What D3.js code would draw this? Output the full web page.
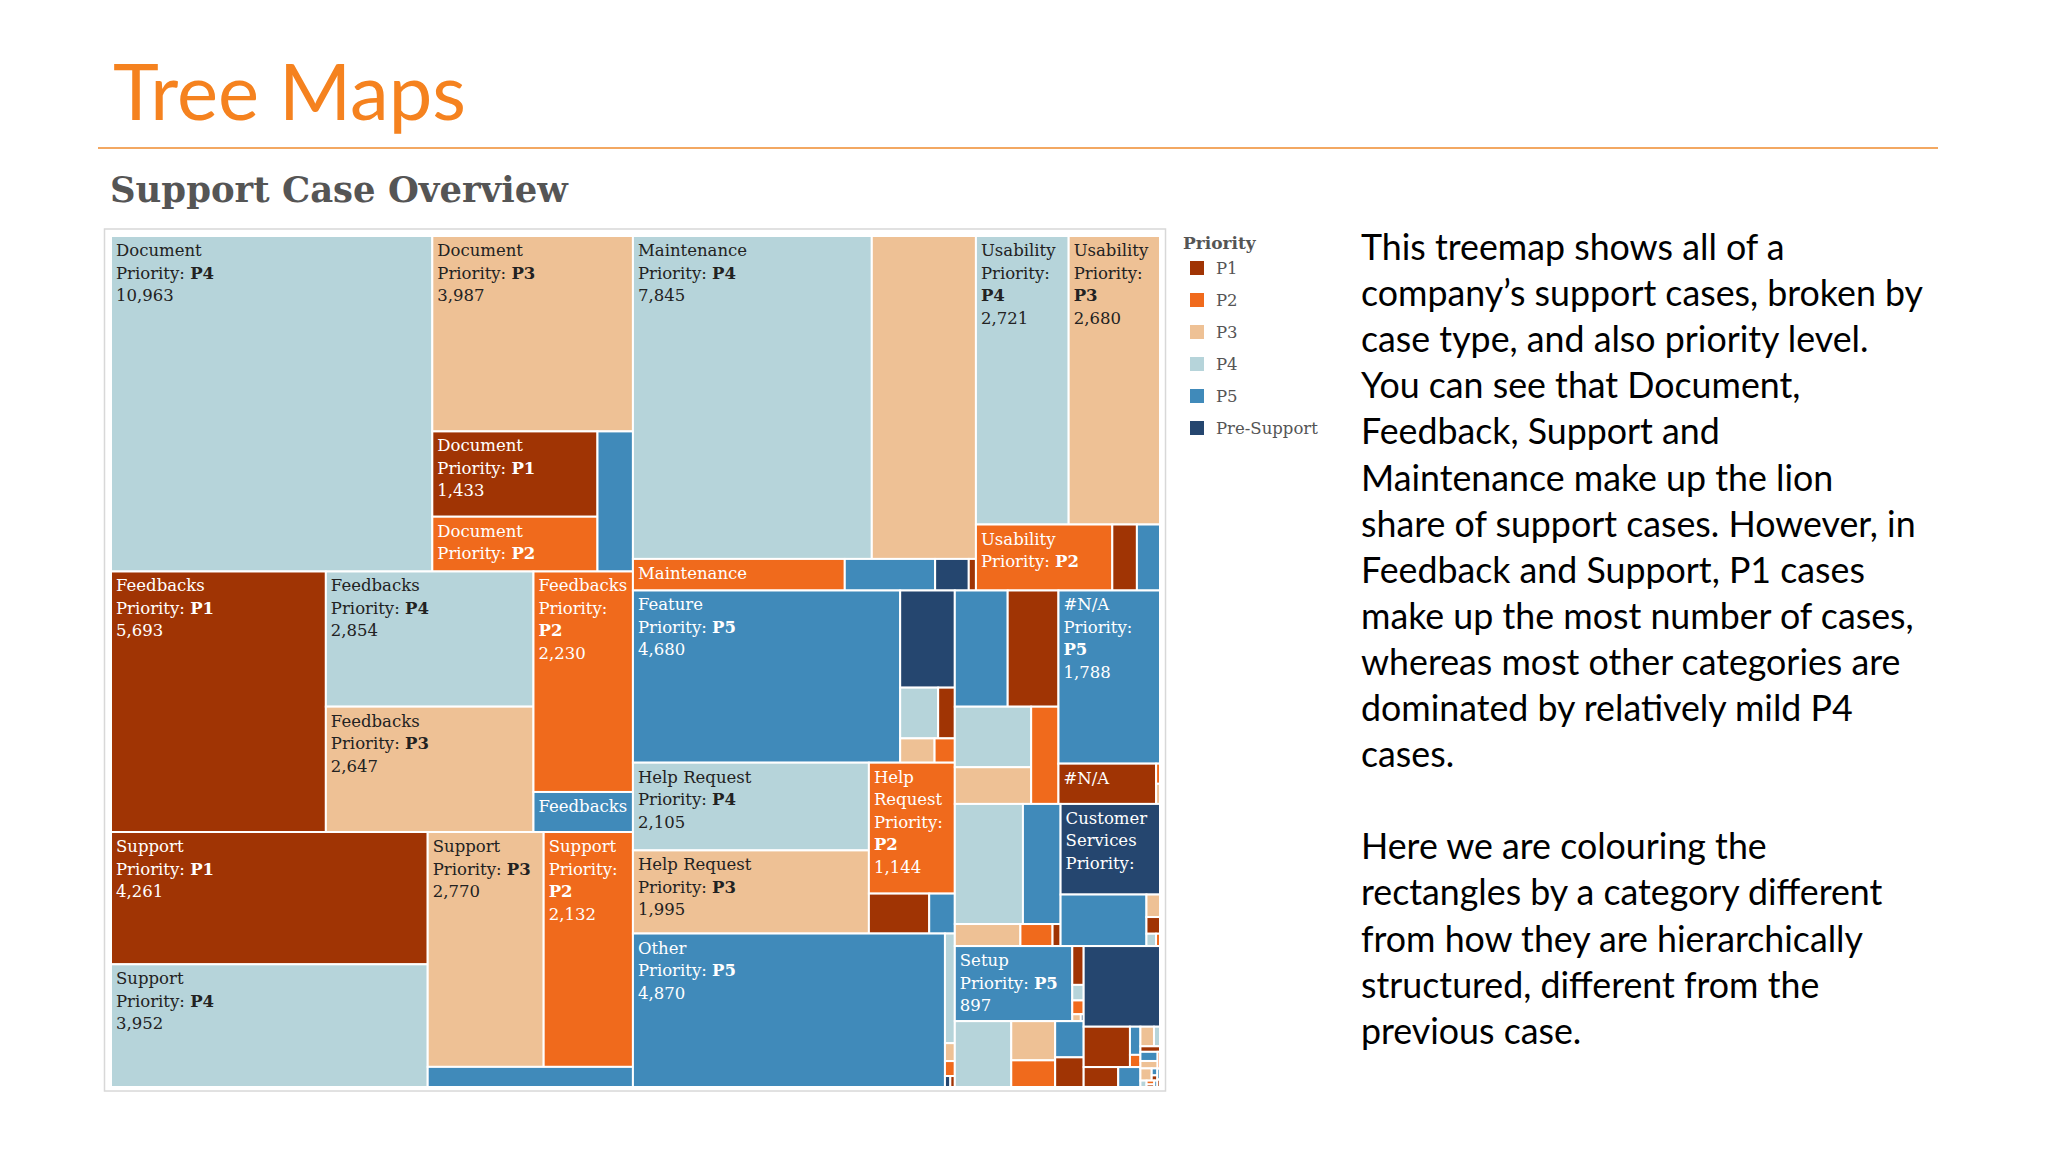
<!DOCTYPE html>
<html>
<head>
<meta charset="utf-8">
<script src="https://cdn.jsdelivr.net/npm/d3@7"></script>
<style>
  body { margin: 0; background: #fff; }
  .cell-label { font-family: "DejaVu Serif", serif; font-size: 16.5px; white-space: pre; }
</style>
</head>
<body>
<div id="chart"></div>
<script>
// case types = first level of the treemap
var caseTypes = ["Document", "Feedbacks", "Support", "Maintenance", "Usability",
    "Feature", "Help Request", "Other", "Enhancement", "#N/A", "Installation",
    "Customer Services", "Setup", "Configuration", "Integration", "Performance",
    "Compatibility", "Localization", "Authentication", "Deployment", "Licensing", "Networking"];

// priority levels (colour)
var priorities = ["P1", "P2", "P3", "P4", "P5", "Pre-Support"];

// number of cases per case type, same order as priorities
var caseCounts = [
    [1433, 920, 3987, 10963, 505, 0],     // Document
    [5693, 2230, 2647, 2854, 405, 0],     // Feedbacks
    [4261, 2132, 2770, 3952, 420, 0],     // Support
    [23, 680, 3420, 7845, 290, 108],      // Maintenance
    [165, 915, 2680, 2721, 155, 0],       // Usability
    [86, 50, 85, 196, 4680, 540],         // Feature
    [245, 1144, 1995, 2105, 104, 0],      // Help Request
    [5, 15, 18, 110, 4870, 6],            // Other
    [600, 270, 285, 470, 625, 0],         // Enhancement
    [400, 8, 8, 0, 1788, 0],              // #N/A
    [18, 72, 147, 832, 460, 0],           // Installation
    [23, 5, 31, 12, 450, 916],            // Customer Services
    [45, 16, 6, 18, 897, 2],              // Setup
    [86, 119, 175, 378, 105, 0],          // Configuration
    [0, 0, 0, 0, 0, 626],                 // Integration
    [190, 13, 0, 0, 30, 0],               // Performance
    [70, 0, 0, 0, 45, 0],                 // Compatibility
    [11, 0, 27, 12, 0, 0],                // Localization
    [0, 4, 13, 0, 16, 0],                 // Authentication
    [3, 0, 14, 0, 4, 0],                  // Deployment
    [2, 3, 0, 4, 2, 0],                   // Licensing
    [2, 0, 0, 0, 3, 0]                    // Networking
];

var priorityColors = ["#a03404", "#f06a1c", "#eec195", "#b6d4da", "#408aba", "#25466f"];

var bodyText = [
    "This treemap shows all of a",
    "company\u2019s support cases, broken by",
    "case type, and also priority level.",
    "You can see that Document,",
    "Feedback, Support and",
    "Maintenance make up the lion",
    "share of support cases. However, in",
    "Feedback and Support, P1 cases",
    "make up the most number of cases,",
    "whereas most other categories are",
    "dominated by relatively mild P4",
    "cases.",
    "",
    "Here we are colouring the",
    "rectangles by a category different",
    "from how they are hierarchically",
    "structured, different from the",
    "previous case."
];

var W = 2048, H = 1152;
var svg = d3.select("#chart")
    .append("svg")
    .attr("width", W)
    .attr("height", H);

// fit a text element to a target width by changing its font size
function fitWidth(sel, target) {
    var w = sel.node().getComputedTextLength();
    var fs = parseFloat(sel.attr("font-size"));
    sel.attr("font-size", fs * target / w);
    return fs * target / w;
}

// slide title
var title = svg.append("text")
    .attr("x", 113)
    .attr("y", 120)
    .attr("font-family", "Lato, 'Open Sans', sans-serif")
    .attr("font-size", 80)
    .attr("fill", "#f5821f")
    .text("Tree Maps");
fitWidth(title, 353);

svg.append("line")
    .attr("x1", 98).attr("x2", 1938)
    .attr("y1", 148).attr("y2", 148)
    .attr("stroke", "#f3a862")
    .attr("stroke-width", 2);

var sub = svg.append("text")
    .attr("x", 110)
    .attr("y", 202)
    .attr("font-family", "'DejaVu Serif', serif")
    .attr("font-weight", "bold")
    .attr("font-size", 34)
    .attr("fill", "#555")
    .text("Support Case Overview");
fitWidth(sub, 458);

// chart frame
svg.append("rect")
    .attr("x", 104.5).attr("y", 229)
    .attr("width", 1061).attr("height", 862)
    .attr("fill", "none")
    .attr("stroke", "#d8d8d8")
    .attr("stroke-width", 1.5);

// build the hierarchy
var rootData = {
    name: "root",
    children: caseTypes.map(function (t, i) {
        return {
            name: t,
            children: priorities.map(function (p, j) {
                return { type: t, priority: p, value: caseCounts[i][j] };
            }).filter(function (c) { return c.value > 0; })
        };
    })
};

var color = d3.scaleOrdinal().domain(priorities).range(priorityColors);

var root = d3.hierarchy(rootData)
    .sum(function (d) { return d.children ? 0 : d.value; })
    .sort(function (a, b) { return b.value - a.value; });

d3.treemap()
    .tile(d3.treemapSquarify)
    .size([1049, 851])
    .round(false)(root);

var g = svg.append("g")
    .attr("transform", "translate(111,236)");

var cells = g.selectAll("g.cell")
    .data(root.leaves())
    .enter().append("g")
    .attr("class", "cell");

cells.append("rect")
    .attr("x", function (d) { return d.x0; })
    .attr("y", function (d) { return d.y0; })
    .attr("width", function (d) { return d.x1 - d.x0; })
    .attr("height", function (d) { return d.y1 - d.y0; })
    .attr("fill", function (d) { return color(d.data.priority); })
    .attr("stroke", "#fff")
    .attr("stroke-width", 2);

// labels, wrapped word by word; nothing if the case type can't be shown whole
var fmt = d3.format(",");
var measure = g.append("text").attr("class", "cell-label").style("visibility", "hidden");

function textWidth(segs) {
    measure.selectAll("tspan").remove();
    segs.forEach(function (s) {
        measure.append("tspan").attr("font-weight", s.bold ? "bold" : null).text(s.text);
    });
    return measure.node().getComputedTextLength();
}

function buildLines(d, maxW) {
    var lines = [];
    var words = d.data.type.split(" ");
    var cur = "";
    for (var i = 0; i < words.length; i++) {
        if (textWidth([{ text: words[i] }]) > maxW) return { lines: [], nType: 0 };
        var trial = cur ? cur + " " + words[i] : words[i];
        if (textWidth([{ text: trial }]) <= maxW) {
            cur = trial;
        } else {
            lines.push([{ text: cur }]);
            cur = words[i];
        }
    }
    lines.push([{ text: cur }]);
    var nType = lines.length;
    if (textWidth([{ text: "Priority:" }]) > maxW) return { lines: lines, nType: nType };
    var pr = [{ text: "Priority: " }, { text: d.data.priority, bold: true }];
    if (textWidth(pr) <= maxW) {
        lines.push(pr);
    } else {
        lines.push([{ text: "Priority:" }]);
        lines.push([{ text: d.data.priority, bold: true }]);
    }
    lines.push([{ text: fmt(d.value) }]);
    return { lines: lines, nType: nType };
}

var lineH = 22.5;
cells.each(function (d) {
    var w = d.x1 - d.x0, h = d.y1 - d.y0;
    var res = buildLines(d, w - 7);
    var fitCount = 0;
    while (20 + fitCount * lineH + 4 <= h - 1) fitCount++;
    if (fitCount < res.nType) return;
    var dark = d.data.priority == "P3" || d.data.priority == "P4";
    var cell = d3.select(this);
    res.lines.slice(0, fitCount).forEach(function (segs, i) {
        var t = cell.append("text")
            .attr("class", "cell-label")
            .attr("x", d.x0 + 5)
            .attr("y", d.y0 + 20 + i * lineH)
            .attr("fill", dark ? "#222" : "#fff");
        segs.forEach(function (s) {
            t.append("tspan").attr("font-weight", s.bold ? "bold" : null).text(s.text);
        });
    });
});
measure.remove();

// legend
var legend = svg.append("g").attr("transform", "translate(1183,0)");
legend.append("text")
    .attr("x", 0).attr("y", 249)
    .attr("font-family", "'DejaVu Serif', serif")
    .attr("font-weight", "bold")
    .attr("font-size", 17)
    .attr("fill", "#555")
    .text("Priority");

var items = legend.selectAll("g.item")
    .data(priorities)
    .enter().append("g")
    .attr("class", "item")
    .attr("transform", function (d, i) { return "translate(0," + (268 + i * 32) + ")"; });

items.append("rect")
    .attr("x", 7).attr("y", -7)
    .attr("width", 14).attr("height", 14)
    .attr("fill", function (d) { return color(d); });

items.append("text")
    .attr("x", 33).attr("y", 6)
    .attr("font-family", "'DejaVu Serif', serif")
    .attr("font-size", 16.5)
    .attr("fill", "#555")
    .text(function (d) { return d; });

// explanation text on the right
var para = svg.append("g")
    .attr("font-family", "Lato, 'Open Sans', sans-serif")
    .attr("font-size", 36)
    .attr("fill", "#000");

var probe = para.append("text").attr("font-size", 36).text(bodyText[1]);
var fs = fitWidth(probe, 562);
probe.remove();
para.attr("font-size", fs);

para.selectAll("text")
    .data(bodyText)
    .enter().append("text")
    .attr("x", 1361)
    .attr("y", function (d, i) { return 260 + i * 46.1; })
    .text(function (d) { return d; });
</script>
</body>
</html>
